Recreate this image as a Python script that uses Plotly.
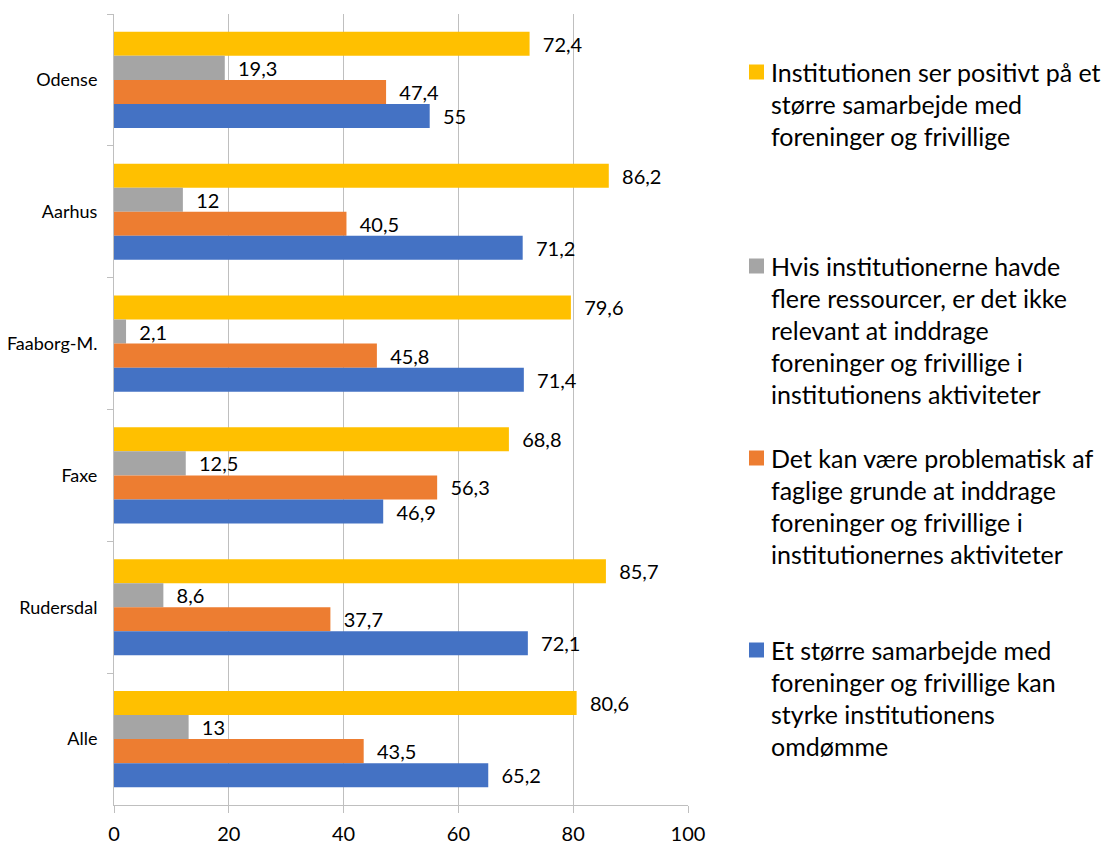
import plotly.graph_objects as go

categories = ["Odense", "Aarhus", "Faaborg-M.", "Faxe", "Rudersdal", "Alle"]
positivt = [72.4, 86.2, 79.6, 68.8, 85.7, 80.6]
ressourcer = [19.3, 12.0, 2.1, 12.5, 8.6, 13.0]
problematisk = [47.4, 40.5, 45.8, 56.3, 37.7, 43.5]
omdomme = [55.0, 71.2, 71.4, 46.9, 72.1, 65.2]

series_names = [
    "Institutionen ser positivt på et større samarbejde med foreninger og frivillige",
    "Hvis institutionerne havde flere ressourcer, er det ikke relevant at inddrage foreninger og frivillige i institutionens aktiviteter",
    "Det kan være problematisk af faglige grunde at inddrage foreninger og frivillige i institutionernes aktiviteter",
    "Et større samarbejde med foreninger og frivillige kan styrke institutionens omdømme",
]
legend_lines = [
    ["Institutionen ser positivt på et", "større samarbejde med", "foreninger og frivillige"],
    ["Hvis institutionerne havde", "flere ressourcer, er det ikke", "relevant at inddrage",
     "foreninger og frivillige i", "institutionens aktiviteter"],
    ["Det kan være problematisk af", "faglige grunde at inddrage", "foreninger og frivillige i",
     "institutionernes aktiviteter"],
    ["Et større samarbejde med", "foreninger og frivillige kan", "styrke institutionens", "omdømme"],
]
colors = ["#FFC000", "#A5A5A5", "#ED7D31", "#4472C4"]
values = [positivt, ressourcer, problematisk, omdomme]

def fmt(v):
    s = ("%.1f" % v).rstrip("0").rstrip(".")
    return "\u00a0\u00a0" + s.replace(".", ",")

FONT = "Lato, Calibri, Carlito, sans-serif"

fig = go.Figure()
for name, vals, col in zip(series_names, values, colors):
    fig.add_trace(go.Bar(
        y=categories, x=vals, orientation="h", name=name,
        marker=dict(color=col, line=dict(width=0)),
        text=[fmt(v) for v in vals], textposition="outside",
        textfont=dict(size=20, color="black", family=FONT),
        cliponaxis=False, showlegend=False,
    ))

# page offset (browser body margin)
OFF = 8
W, H = 1112 - OFF, 845 - OFF
# plot area in screen pixels
L, R, T, B = 114, 688, 14, 805

def px_x(p):
    return (p - L) / (R - L)
def px_y(p):
    return (B - p) / (B - T)

annotations = []
shapes = []
first_line_y = [72, 266, 458, 650]
line_h = 32
for lines, y0, col in zip(legend_lines, first_line_y, colors):
    shapes.append(dict(type="rect", xref="paper", yref="paper",
                       x0=px_x(749), x1=px_x(764), y0=px_y(y0 - 7.5), y1=px_y(y0 + 7.5),
                       fillcolor=col, line=dict(width=0)))
    for i, ln in enumerate(lines):
        annotations.append(dict(text=ln, xref="paper", yref="paper",
                                x=px_x(769), y=px_y(y0 + i * line_h),
                                xanchor="left", yanchor="middle", showarrow=False,
                                font=dict(size=25, color="black", family=FONT)))

fig.update_layout(
    width=W, height=H,
    margin=dict(l=L - OFF, r=(1112 - R), t=T - OFF, b=(845 - B), pad=0, autoexpand=False),
    paper_bgcolor="white", plot_bgcolor="white",
    barmode="group", bargap=0.27, bargroupgap=0,
    font=dict(family=FONT, color="black"),
    xaxis=dict(range=[0, 100], dtick=20, showgrid=True, gridcolor="#BFBFBF", gridwidth=1,
               zeroline=False, showline=True, linecolor="#BFBFBF", linewidth=1,
               ticks="outside", ticklen=7, tickcolor="#BFBFBF", automargin=False,
               tickfont=dict(size=20, color="black", family=FONT), ticklabelstandoff=4),
    yaxis=dict(autorange="reversed", showgrid=False, zeroline=False,
               showline=True, linecolor="#BFBFBF", linewidth=1, automargin=False,
               ticks="outside", ticklen=6, tickcolor="#BFBFBF", tickson="boundaries",
               tickfont=dict(size=18, color="black", family=FONT), ticklabelstandoff=12),
    annotations=annotations, shapes=shapes,
)

fig.write_html("out.html")
